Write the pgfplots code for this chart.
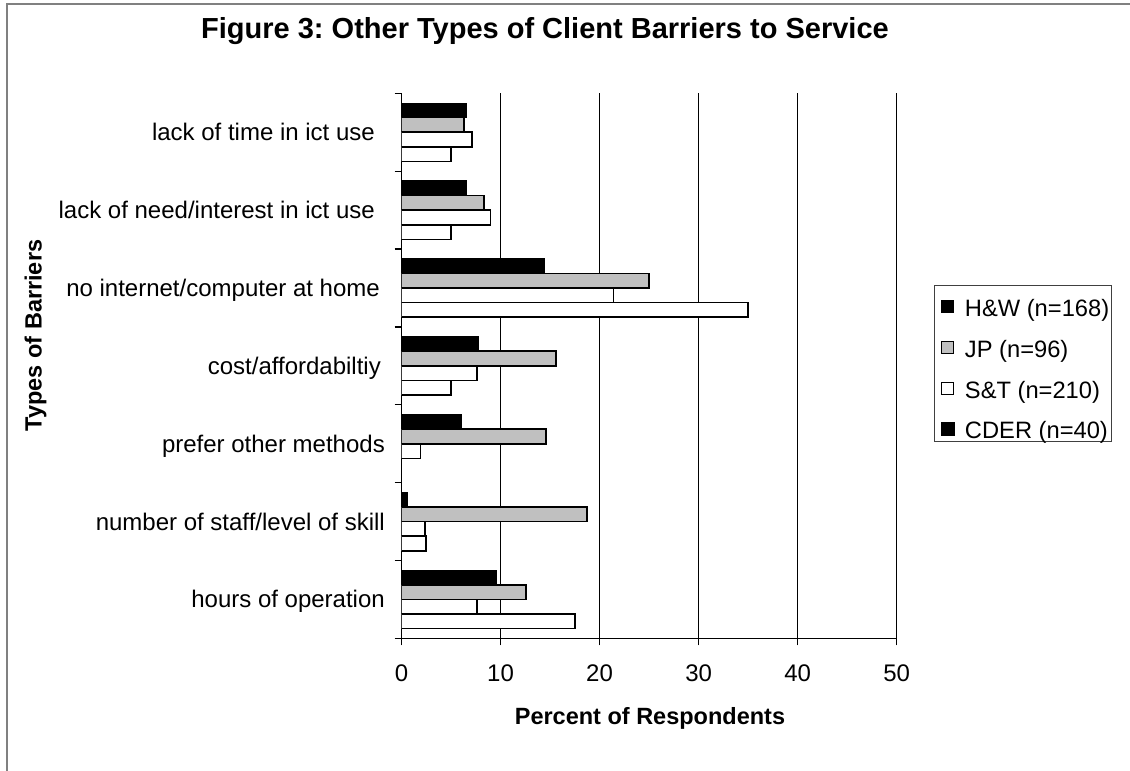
\documentclass[border=0pt]{standalone}
\usepackage{fontspec}
\setmainfont{Liberation Sans}
\usepackage{pgfplots}
\pgfplotsset{compat=1.18}
\definecolor{jpgray}{HTML}{C0C0C0}
\definecolor{framegray}{HTML}{808080}
\frenchspacing

\begin{document}
\begin{tikzpicture}[x=1pt,y=1pt]
\useasboundingbox (0,0) rectangle (1130,-771);
% chart frame
\draw[framegray, line width=2pt] (7,-772) -- (7,-4) -- (1131,-4);

\begin{axis}[
  at={(401.5pt,-638.4pt)}, anchor=south west,
  scale only axis, width=495.2pt, height=545.1pt,
  xmin=0, xmax=50, ymin=-0.5, ymax=6.5,
  axis x line*=bottom, axis y line*=left,
  axis line style={black, line width=1.3pt, -},
  xtick={0,10,...,50},
  xmajorgrids, grid style={black, line width=1.3pt},
  ytick={0,...,6},
  yticklabels={hours of operation, number of staff/level of skill, prefer other methods, cost/affordabiltiy\kern4pt, no internet/computer at home\kern5pt, lack of need/interest in ict use\kern10pt, lack of time in ict use\kern10pt},
  minor ytick={-0.5,0.5,...,6.5},
  tick align=outside, major tick length=7pt, minor tick length=7pt,
  tick style={black, line width=1.2pt},
  major y tick style={draw=none},
  /pgf/number format/assume math mode=true,
  xticklabel style={font=\fontsize{24}{28}\selectfont, inner sep=0pt, anchor=north, yshift=-19.6pt},
  yticklabel style={font=\fontsize{24}{28}\selectfont, inner sep=0pt, anchor=base east, xshift=-9.5pt, yshift=-8.4pt},
  xbar, bar width=14.6pt,
  legend cell align=left,
  legend style={at={(rel axis cs:1.0753,0.6483)}, anchor=north west,
    draw=black!75, line width=1pt, fill=white,
    font=\fontsize{23.7}{28}\selectfont,
    inner xsep=2pt, inner ysep=1pt, row sep=8.8pt,
    nodes={inner sep=2pt, inner xsep=0pt, text height=28pt, text depth=0pt}},
  legend image code/.code={\draw[#1, line width=1pt] (0pt,-10pt) rectangle (12pt,2pt);
    \path[draw=none, fill=none] (-5.5pt,0pt) -- (23pt,0pt);},
]
% H&W
\addplot[fill=black, draw=black, line width=1pt, bar shift=21.9pt]
  coordinates {(9.6,0) (0.6,1) (6.1,2) (7.8,3) (14.4,4) (6.6,5) (6.6,6)};
\addlegendentry{H\&W (n=168)}
% JP
\addplot[fill=jpgray, draw=black, line width=1.6pt, bar shift=7.3pt]
  coordinates {(12.6,0) (18.75,1) (14.6,2) (15.6,3) (25.0,4) (8.3,5) (6.3,6)};
\addlegendentry{JP (n=96)}
% S&T
\addplot[fill=white, draw=black, line width=1.6pt, bar shift=-7.3pt]
  coordinates {(7.6,0) (2.4,1) (1.9,2) (7.6,3) (21.4,4) (9.0,5) (7.1,6)};
\addlegendentry{S\&T (n=210)}
% CDER
\addplot[fill=white, draw=black, line width=1.6pt, bar shift=-21.9pt,
  legend image code/.code={\fill[black] (0pt,-10pt) rectangle (12pt,2pt);
    \path[draw=none, fill=none] (-5.5pt,0pt) -- (23pt,0pt);}]
  coordinates {(17.5,0) (2.5,1) (5.0,3) (35.0,4) (5.0,5) (5.0,6)};
\addlegendentry{CDER (n=40)}
\end{axis}

% titles
\node[anchor=base, font=\fontsize{29}{34}\selectfont\bfseries] at (545,-38.3)
  {Figure 3: Other Types of Client Barriers to Service};
\node[anchor=base, font=\fontsize{23.5}{28}\selectfont\bfseries] at (650,-724)
  {Percent of Respondents};
\node[anchor=base, rotate=90, font=\fontsize{23.5}{28}\selectfont\bfseries] at (41.7,-335.5)
  {Types of Barriers};
\end{tikzpicture}
\end{document}
